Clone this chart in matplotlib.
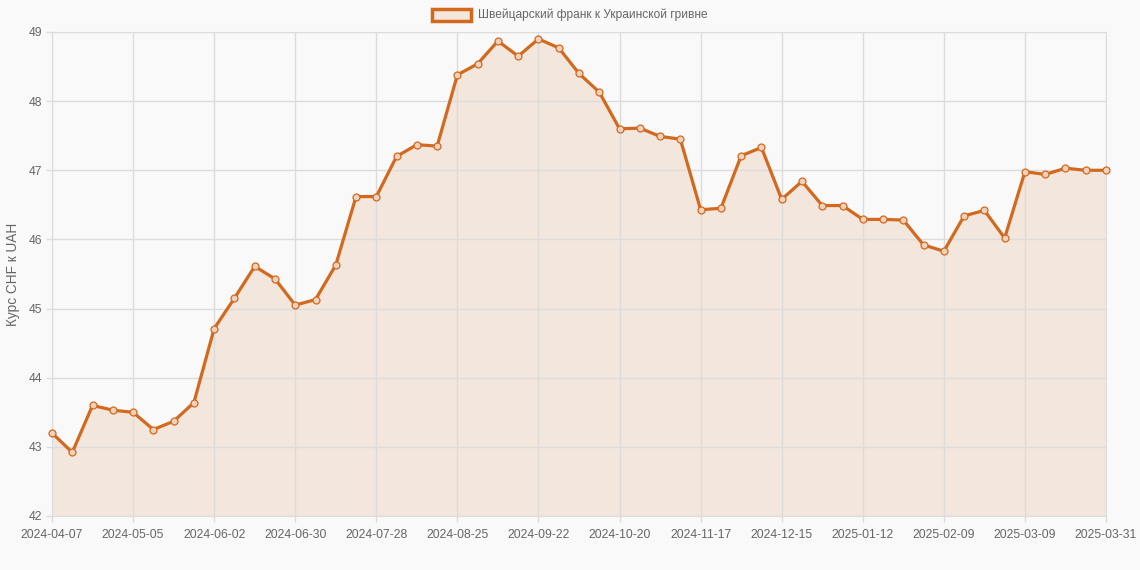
import datetime as dt
import matplotlib
matplotlib.use('Agg')
import matplotlib.pyplot as plt
from matplotlib.patches import Rectangle

plt.rcParams['font.family'] = ['Liberation Sans', 'DejaVu Sans']

# weekly CHF/UAH rate
start = dt.date(2024, 4, 7)
dates = [(start + dt.timedelta(weeks=i)).isoformat() for i in range(52)] + ['2025-03-31']
rates = [43.20, 42.92, 43.60, 43.53, 43.50, 43.25, 43.37, 43.64,
         44.71, 45.15, 45.61, 45.43, 45.05, 45.13, 45.63, 46.62,
         46.62, 47.20, 47.37, 47.35, 48.38, 48.54, 48.87, 48.65,
         48.90, 48.77, 48.40, 48.13, 47.60, 47.61, 47.49, 47.45,
         46.43, 46.45, 47.21, 47.33, 46.58, 46.84, 46.49, 46.49,
         46.29, 46.29, 46.28, 45.92, 45.83, 46.34, 46.42, 46.02,
         46.98, 46.94, 47.03, 47.00, 47.00]
yticks = [42, 43, 44, 45, 46, 47, 48, 49]
label = 'Швейцарский франк к Украинской гривне'

line_col = '#d2691e'
fill_col = '#f3e6dc'
grid_col = '#dcdcdc'
text_col = '#666666'
bg = '#f9f9f9'

W, H = 1140, 570
fig = plt.figure(figsize=(W / 100, H / 100), dpi=100, facecolor=bg)
ax = fig.add_axes([52 / W, 1 - 516 / H, (1106 - 52) / W, (516 - 32) / H])
ax.set_facecolor(bg)

x = list(range(len(rates)))
ax.fill_between(x, rates, 42, color=fill_col, zorder=1, linewidth=0)
ax.plot(x, rates, color=line_col, lw=2.3, zorder=3, solid_joinstyle='round')
ax.plot(x, rates, 'o', ms=5, mfc='#f0d2bc', mec=line_col, mew=0.9, zorder=4, clip_on=False)

ax.set_xlim(0, len(rates) - 1)
ax.set_ylim(42, 49)
ax.set_yticks(yticks)
tick_idx = list(range(0, len(rates) - 1, 4)) + [len(rates) - 1]
ax.set_xticks(tick_idx)
ax.set_xticklabels([dates[i] for i in tick_idx])
ax.grid(True, color=grid_col, lw=1, zorder=0)
for s in ax.spines.values():
    s.set_color(grid_col)
ax.tick_params(colors=grid_col, labelcolor=text_col, labelsize=8.7, length=4, width=1, pad=3)
ax.tick_params(axis='x', pad=5)
ax.set_ylabel('Курс CHF к UAH', color=text_col, fontsize=9.8)
ax.yaxis.set_label_coords(-0.0305, 0.5)

# legend like a chart.js one
leg_y = 1 - 15 / H
fig.patches.append(Rectangle((432 / W, 1 - 21 / H), 39 / W, 12 / H, transform=fig.transFigure,
                             facecolor=fill_col, edgecolor=line_col, lw=2.5))
fig.text(478 / W, leg_y, label, color=text_col, fontsize=8.6, va='center', ha='left')

fig.savefig('out.png', dpi=100, facecolor=bg)
